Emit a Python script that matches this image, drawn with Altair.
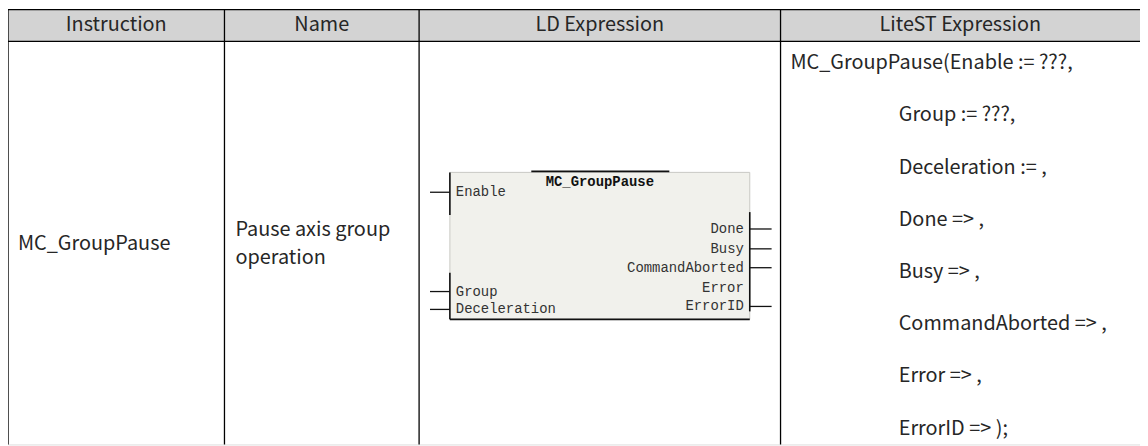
import altair as alt
import pandas as pd

# ---------------- data (texts) ----------------
headers = ["Instruction", "Name", "LD Expression", "LiteST Expression"]
instruction = ["MC_GroupPause"]
name_lines = ["Pause axis group", "operation"]
litest_lines = [
    "MC_GroupPause(Enable := ???,",
    "Group := ???,",
    "Deceleration := ,",
    "Done => ,",
    "Busy => ,",
    "CommandAborted => ,",
    "Error => ,",
    "ErrorID => );",
]
litest_indent = [False, True, True, True, True, True, True, True]
block_title = ["MC_GroupPause"]
block_inputs = ["Enable", "Group", "Deceleration"]
block_outputs = ["Done", "Busy", "CommandAborted", "Error", "ErrorID"]
output_pins = [True, True, True, False, True]

# ---------------- layout (page pixels) ----------------
W, H = 1148, 446
col_edges = [8, 226, 422, 786, 1148]
top, head_bot, bottom = 8, 40, 446
row_mid = 244
lite_first, lite_last = 62, 430
lite_step = (lite_last - lite_first) / (len(litest_lines) - 1)
lite_x0, lite_x1 = 796, 905

box_l, box_r, box_t, box_b = 453, 755, 172, 320
in_y = [192, 292, 310]
out_y = [229, 249, 268, 288, 307]

xs = alt.Scale(domain=[8, W], range=[0, W - 8], nice=False, zero=False)
ys = alt.Scale(domain=[8, H], range=[0, H - 8], nice=False, zero=False)
X = lambda f: alt.X(f, type="quantitative", scale=xs, axis=None)
Y = lambda f: alt.Y(f, type="quantitative", scale=ys, axis=None)

layers = []

# header band
hdr = pd.DataFrame({"x": [col_edges[0]], "x2": [col_edges[-1]], "y": [top], "y2": [head_bot]})
layers.append(alt.Chart(hdr).mark_rect(color="#d3d3d3").encode(
    x=X("x"), x2="x2", y=Y("y"), y2="y2"))

# LD block box
box = pd.DataFrame({"x": [box_l], "x2": [box_r], "y": [box_t], "y2": [box_b]})
layers.append(alt.Chart(box).mark_rect(color="#f1f1ec", stroke="#c9c9c4", strokeWidth=1).encode(
    x=X("x"), x2="x2", y=Y("y"), y2="y2"))

# dark border segments of the block
seg = pd.DataFrame({
    "x":  [535, box_l, box_l, box_r, box_l],
    "x2": [674, box_l, box_l, box_r, box_r],
    "y":  [box_t - 1, box_t, 273, 212, box_b],
    "y2": [box_t - 1, 215, box_b, 312, box_b],
})
layers.append(alt.Chart(seg).mark_rule(color="#111", strokeWidth=1.6).encode(
    x=X("x"), x2="x2", y=Y("y"), y2="y2"))

# pins
pins_l = pd.DataFrame({"x": [433] * 3, "x2": [box_l] * 3, "y": in_y})
pins_r = pd.DataFrame({"x": [box_r] * 4, "x2": [777] * 4,
                       "y": [y for y, p in zip(out_y, output_pins) if p]})
for d in (pins_l, pins_r):
    layers.append(alt.Chart(d).mark_rule(color="#111", strokeWidth=1.3).encode(
        x=X("x"), x2="x2", y=Y("y")))

# table grid
hl = pd.DataFrame({"x": [col_edges[0]] * 2, "x2": [col_edges[-1]] * 2, "y": [top, head_bot]})
vl = pd.DataFrame({"x": col_edges[:-1], "y": [top] * 4, "y2": [bottom] * 4})
layers.append(alt.Chart(hl).mark_rule(color="#000", strokeWidth=1.3).encode(
    x=X("x"), x2="x2", y=Y("y")))
layers.append(alt.Chart(vl).mark_rule(color="#000", strokeWidth=1.3).encode(
    x=X("x"), y=Y("y"), y2="y2"))

FONT = "Noto Sans CJK SC"
FS = 20

# header texts
ht = pd.DataFrame({"t": headers,
                   "x": [(a + b) / 2 for a, b in zip(col_edges[:-1], col_edges[1:])],
                   "y": [(top + head_bot) / 2] * 4})
layers.append(alt.Chart(ht).mark_text(font=FONT, fontSize=FS, color="#262626", baseline="middle",
                                      align="center").encode(x=X("x"), y=Y("y"), text="t:N"))

# body texts (left-aligned)
body = pd.DataFrame({
    "t": instruction + name_lines + litest_lines,
    "x": [col_edges[0] + 10] + [col_edges[1] + 11] * 2 +
         [lite_x1 if ind else lite_x0 for ind in litest_indent],
    "y": [row_mid, row_mid - 14, row_mid + 14] +
         [lite_first + i * lite_step for i in range(len(litest_lines))],
})
layers.append(alt.Chart(body).mark_text(font=FONT, fontSize=FS, color="#262626", baseline="middle",
                                        align="left").encode(x=X("x"), y=Y("y"), text="t:N"))

# block texts
MONO = "Liberation Mono"
bt = pd.DataFrame({"t": block_title, "x": [(box_l + box_r) / 2], "y": [box_t + 10]})
layers.append(alt.Chart(bt).mark_text(font=MONO, fontSize=14, fontWeight="bold", color="#111",
                                      baseline="middle", align="center").encode(
    x=X("x"), y=Y("y"), text="t:N"))
bi = pd.DataFrame({"t": block_inputs, "x": [box_l + 6] * 3, "y": in_y})
layers.append(alt.Chart(bi).mark_text(font=MONO, fontSize=14, color="#333",
                                      baseline="middle", align="left").encode(
    x=X("x"), y=Y("y"), text="t:N"))
bo = pd.DataFrame({"t": block_outputs, "x": [box_r - 6] * 5, "y": out_y})
layers.append(alt.Chart(bo).mark_text(font=MONO, fontSize=14, color="#333",
                                      baseline="middle", align="right").encode(
    x=X("x"), y=Y("y"), text="t:N"))

chart = alt.layer(*layers).properties(
    width=W - 8, height=H - 8, padding=0, autosize=alt.AutoSizeParams(type="none")
).configure_view(stroke=None).configure(background="white")

chart.save("out.html", embed_options={"renderer": "svg", "actions": False})
